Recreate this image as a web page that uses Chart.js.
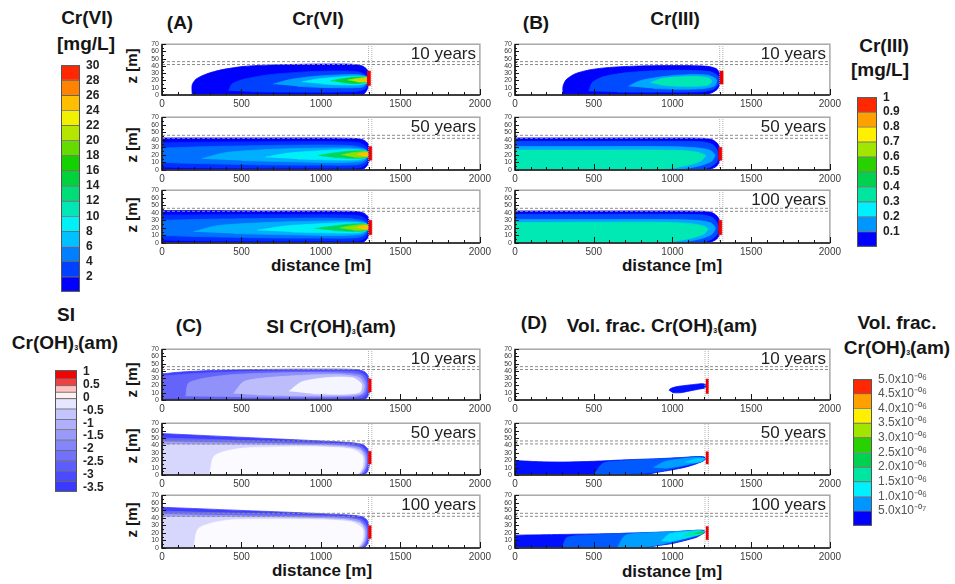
<!DOCTYPE html>
<html>
<head>
<meta charset="utf-8">
<title>Cr plume simulations</title>
<script src="https://cdn.jsdelivr.net/npm/chart.js@4.4.1/dist/chart.umd.min.js"></script>
<style>
  html, body { margin: 0; padding: 0; background: #fff; }
  #fig { position: relative; width: 955px; height: 584px; overflow: hidden;
         font-family: "Liberation Sans", Arial, Helvetica, sans-serif; color: #151515; }
  #fig canvas { position: absolute; }
  .t { position: absolute; white-space: nowrap; font-weight: bold; transform: translate(-50%, -50%); line-height: 1; }
  .big { font-size: 19px; }
  .dist { font-size: 17px; }
  .zl { font-size: 15px; transform: translate(-50%, -50%) rotate(-90deg); }
  .yr { position: absolute; white-space: nowrap; font-size: 17px; color: #222; transform: translate(-100%, -50%); line-height: 1; }
  sub { font-size: 7px; vertical-align: -1px; }
</style>
</head>
<body>
<div id="fig">
  <!-- colorbar titles -->
  <div class="t big" style="left:87px;top:17px">Cr(VI)</div>
  <div class="t big" style="left:86px;top:43px">[mg/L]</div>
  <div class="t big" style="left:884px;top:45px">Cr(III)</div>
  <div class="t big" style="left:880px;top:69px">[mg/L]</div>
  <div class="t big" style="left:66px;top:314px">SI</div>
  <div class="t big" style="left:65px;top:342px">Cr(OH)<sub>3</sub>(am)</div>
  <div class="t big" style="left:897px;top:322px">Vol. frac.</div>
  <div class="t big" style="left:897px;top:347px">Cr(OH)<sub>3</sub>(am)</div>
  <!-- panel titles -->
  <div class="t big" style="left:180px;top:22px">(A)</div>
  <div class="t big" style="left:318px;top:18px">Cr(VI)</div>
  <div class="t big" style="left:536px;top:22px">(B)</div>
  <div class="t big" style="left:675px;top:18px">Cr(III)</div>
  <div class="t big" style="left:189px;top:325px">(C)</div>
  <div class="t big" style="left:331px;top:326px">SI Cr(OH)<sub>3</sub>(am)</div>
  <div class="t big" style="left:534px;top:322px">(D)</div>
  <div class="t big" style="left:662px;top:325px">Vol. frac. Cr(OH)<sub>3</sub>(am)</div>
  <!-- axis titles -->
  <div class="t dist" style="left:321px;top:265px">distance [m]</div>
  <div class="t dist" style="left:672px;top:265px">distance [m]</div>
  <div class="t dist" style="left:322px;top:570px">distance [m]</div>
  <div class="t dist" style="left:672px;top:571px">distance [m]</div>
  <div class="t zl" style="left:131px;top:66px">z [m]</div>
  <div class="t zl" style="left:131px;top:145px">z [m]</div>
  <div class="t zl" style="left:131px;top:215px">z [m]</div>
  <div class="t zl" style="left:131px;top:380px">z [m]</div>
  <div class="t zl" style="left:131px;top:446px">z [m]</div>
  <div class="t zl" style="left:131px;top:520px">z [m]</div>
</div>
<script>
Chart.defaults.font.family = '"Liberation Sans", Arial, sans-serif';

// ---------------- data ----------------
const xMajor = [0, 500, 1000, 1500, 2000];
const zMajor = [0, 10, 20, 30, 40, 50, 60, 70];
const layerBounds = [42, 46];          // dashed horizontal lines, z [m]
const wallABC = [1300, 1320];          // dotted vertical lines, x [m]
const wallD = [1207, 1228];

// colorbar levels and tick labels
const crviLevels = [0, 2, 4, 6, 8, 10, 12, 14, 16, 18, 20, 22, 24, 26, 28, 30];
const crviTicks = [2, 4, 6, 8, 10, 12, 14, 16, 18, 20, 22, 24, 26, 28, 30];
const cr3Levels = [0, 0.1, 0.2, 0.3, 0.4, 0.5, 0.6, 0.7, 0.8, 0.9, 1.0];
const cr3Ticks = [0.1, 0.2, 0.3, 0.4, 0.5, 0.6, 0.7, 0.8, 0.9, 1];
const siLevels = [-3.65, -3.25, -2.85, -2.45, -2.05, -1.65, -1.25, -0.85, -0.45, -0.05, 0.2, 0.45, 0.7, 1.05];
const siTicks = [-3.5, -3, -2.5, -2, -1.5, -1, -0.5, 0, 0.5, 1];
const vfLevels = [0, 5e-7, 1e-6, 1.5e-6, 2e-6, 2.5e-6, 3e-6, 3.5e-6, 4e-6, 4.5e-6, 5e-6];
const vfTicks = [5e-7, 1e-6, 1.5e-6, 2e-6, 2.5e-6, 3e-6, 3.5e-6, 4e-6, 4.5e-6, 5e-6];

// Cr(VI) plume contours [x m, z m], outermost first, with their levels (mg/L)
const crviLevels10 = [1, 3, 6, 9, 15, 21, 25];
const crviPlume10 = [
  [[190,0],[190,14],[215,22],[280,29],[380,35],[520,39.5],[700,41.5],[950,42.5],[1180,42.5],[1255,40.5],[1290,35],[1302,25],[1298,12],[1285,5],[1265,0]],
  [[420,6],[440,15],[520,22],[680,28],[880,31.5],[1080,33],[1230,32],[1285,27],[1295,18],[1280,9],[1220,5],[1050,4],[800,4],[560,4.5]],
  [[700,15],[800,21],[950,25.5],[1100,27.5],[1230,28],[1288,25],[1292,17],[1260,11],[1150,10],[1000,10.5],[850,12]],
  [[880,18],[980,22],[1100,24.5],[1220,26],[1290,24.5],[1292,17],[1230,14],[1120,14],[1000,15.5]],
  [[1060,19.5],[1140,22.5],[1220,24.5],[1290,24],[1292,18],[1220,16],[1140,17]],
  [[1170,20.5],[1230,22.8],[1292,23.5],[1292,18.5],[1230,17.8]],
  [[1240,20.8],[1270,22.5],[1294,23],[1294,19],[1268,19]]
];
const crviLevels50 = [1, 2.5, 4.5, 6.5, 9, 14, 20, 25];
const crviPlume50 = [
  [[0,42.5],[500,42.5],[1000,42.5],[1200,42],[1260,40.5],[1292,36],[1308,26],[1306,14],[1292,6],[1270,1.5],[1250,0],[0,0]],
  [[0,36],[400,37],[800,37.5],[1100,37.5],[1240,36],[1290,30],[1300,18],[1285,8],[1240,3],[1000,2.5],[600,2.5],[200,3],[0,4]],
  [[0,29],[300,31],[700,32.5],[1000,33],[1200,32],[1280,28],[1295,20],[1280,11],[1220,7],[1000,6.5],[600,7],[250,8.5],[0,10]],
  [[250,15],[400,23],[700,27.5],[1000,29],[1200,29],[1285,26],[1292,18],[1260,12],[1100,10],[800,11],[500,12.5]],
  [[650,17],[800,22.5],[1000,25.5],[1180,27],[1290,25],[1292,17],[1220,13.5],[1050,13.5],[850,14.5]],
  [[980,19],[1080,22.5],[1180,25],[1290,24.5],[1292,17],[1200,15.5],[1080,16.5]],
  [[1130,20],[1200,23],[1292,24],[1292,18],[1210,17]],
  [[1225,20.5],[1260,22.5],[1294,23],[1294,18.5],[1260,18.5]]
];
const crviLevels100 = [1, 2.5, 4.5, 6.5, 9, 14, 20, 25];
const crviPlume100 = [
  [[0,43],[300,43],[600,42.5],[1000,42.5],[1200,42],[1260,40.5],[1292,36],[1308,26],[1306,14],[1292,6],[1270,1.5],[1250,0],[0,0]],
  [[0,37],[400,37.5],[800,37.5],[1100,37.5],[1240,36],[1290,30],[1300,18],[1285,8],[1240,3],[1000,2.5],[600,2.5],[200,3],[0,4]],
  [[0,30],[300,31.5],[700,32.5],[1000,33],[1200,32],[1280,28],[1295,20],[1280,11],[1220,7],[1000,6.5],[600,7],[250,8.5],[0,10]],
  [[200,15],[350,23],[700,27.5],[1000,29],[1200,29],[1285,26],[1292,18],[1260,12],[1100,10],[800,11],[450,12.5]],
  [[600,17],[780,22.5],[1000,25.5],[1180,27],[1290,25],[1292,17],[1220,13.5],[1050,13.5],[820,14.5]],
  [[960,19],[1080,22.5],[1180,25],[1290,24.5],[1292,17],[1200,15.5],[1080,16.5]],
  [[1120,20],[1200,23],[1292,24],[1292,18],[1210,17]],
  [[1220,20.5],[1260,22.5],[1294,23],[1294,18.5],[1260,18.5]]
];

// Cr(III) plume contours (mg/L)
const cr3Levels10 = [0.05, 0.1, 0.17, 0.33];
const cr3Plume10 = [
  [[305,0],[305,12],[325,21],[380,29],[470,34.5],[600,38],[800,40],[1050,40.5],[1220,39.5],[1280,36],[1303,28],[1303,17],[1285,8],[1250,3],[1215,0]],
  [[470,5],[490,17],[560,25],[700,30.5],[900,33.5],[1100,34],[1240,32],[1290,26],[1292,15],[1260,8],[1180,4.5],[900,4],[650,4]],
  [[720,12],[800,20],[950,25.5],[1100,28],[1230,27],[1280,21],[1270,13],[1200,9],[1050,8],[880,9]],
  [[860,17],[930,22.5],[1050,25],[1150,25.5],[1235,23],[1250,18],[1220,13.5],[1120,12],[1000,12.5],[920,14]]
];
const cr3Levels50 = [0.05, 0.1, 0.17, 0.33];
const cr3Plume50 = [
  [[0,42.5],[500,42.5],[1000,42.5],[1200,42],[1255,40],[1290,34],[1305,24],[1300,12],[1280,5],[1240,1],[1200,0],[0,0]],
  [[0,38],[500,38],[1000,38],[1200,37],[1260,33],[1288,24],[1285,12],[1250,5],[1190,1],[1100,0],[0,0]],
  [[0,31],[500,31],[950,31],[1150,29.5],[1240,26],[1270,20],[1250,12],[1180,6],[1080,2],[960,0],[0,0]],
  [[0,26.5],[500,26.5],[900,26.5],[1080,25.5],[1170,23],[1210,19],[1180,12],[1100,6.5],[1000,2.5],[880,0],[0,0]]
];
const cr3Levels100 = [0.05, 0.1, 0.17, 0.33];
const cr3Plume100 = [
  [[0,42.5],[500,42.5],[1000,42.5],[1200,42],[1255,40],[1290,34],[1305,24],[1300,12],[1280,5],[1240,1],[1200,0],[0,0]],
  [[0,38],[500,38],[1000,38],[1200,37],[1260,33],[1288,24],[1285,12],[1250,5],[1190,1],[1100,0],[0,0]],
  [[0,31],[500,31],[950,31],[1150,30],[1245,26.5],[1272,20],[1252,12],[1185,6],[1085,2],[965,0],[0,0]],
  [[0,27],[500,27.5],[900,27.5],[1100,26],[1190,23],[1225,19],[1200,12],[1110,6],[1000,2],[880,0],[0,0]]
];

// SI Cr(OH)3(am) contours
const siLevels10 = [-3.3, -2.5, -1.6, -0.8, -0.1];
const siPlume10 = [
  [[0,36],[120,38.5],[300,40.5],[600,42],[1000,42.5],[1220,42],[1275,39],[1300,32],[1308,20],[1302,8],[1285,2],[1265,0],[0,0]],
  [[0,33],[250,37],[600,39.5],[1000,40],[1230,39],[1280,33],[1293,20],[1285,8],[1250,3],[900,2],[400,2],[0,2.5]],
  [[150,5],[170,24],[400,34],[750,37.5],[1100,37.5],[1250,34],[1282,24],[1275,10],[1220,5],[900,4],[500,4]],
  [[450,9],[520,26],[800,33],[1100,35],[1240,31],[1272,20],[1255,9],[1150,6],[850,6],[600,7]],
  [[800,12],[880,25],[1050,31],[1200,30.5],[1255,22],[1245,11],[1150,8],[950,8.5]]
];
const siLevels50 = [-3.3, -2.4, -1.3, -0.4, -0.05];
const siPlume50 = [
  [[0,56],[250,53.5],[500,51],[750,48.5],[1000,46],[1200,43.5],[1265,41],[1295,35],[1306,24],[1302,10],[1288,3],[1262,0],[0,0]],
  [[0,50],[300,48],[600,46],[900,44],[1150,42],[1255,38.5],[1290,30],[1294,14],[1278,4],[1250,0],[0,0]],
  [[0,45],[400,43.5],[800,42],[1100,40.5],[1240,37],[1282,28],[1284,13],[1265,4],[1235,0],[0,0]],
  [[0,41],[500,40.5],[900,40],[1150,38],[1250,33],[1275,22],[1270,10],[1245,2],[1220,0],[0,0]],
  [[300,0],[330,26],[500,36],[800,38],[1050,37.5],[1200,34.5],[1260,26],[1262,12],[1240,3],[1200,0]]
];
const siLevels100 = [-3.3, -2.4, -1.3, -0.4, -0.05];
const siPlume100 = [
  [[0,54],[300,51.5],[600,49],[900,46.5],[1150,44],[1250,42],[1290,37],[1305,26],[1302,10],[1285,3],[1260,0],[0,0]],
  [[0,49],[300,47],[600,45.5],[900,43.5],[1150,41.5],[1255,38],[1290,29],[1294,14],[1278,4],[1250,0],[0,0]],
  [[0,44.5],[400,43],[800,41.5],[1100,40],[1240,36.5],[1282,27],[1284,13],[1265,4],[1235,0],[0,0]],
  [[0,41],[500,40.5],[900,39.5],[1150,37.5],[1250,32.5],[1275,22],[1270,10],[1245,2],[1220,0],[0,0]],
  [[200,0],[230,26],[400,36.5],[700,38],[1050,37],[1200,34],[1260,26],[1262,12],[1240,3],[1200,0]]
];

// Vol. frac. Cr(OH)3(am) contours
const vfLevels10 = [3e-7];
const vfPlume10 = [
  [[977,13.5],[990,16],[1030,18.5],[1080,20],[1140,21.5],[1190,22.5],[1212,21],[1210,17],[1170,15],[1110,12.5],[1050,10],[1000,10]]
];
const vfLevels50 = [3e-7, 5.5e-7, 8e-7, 1.05e-6];
const vfPlume50 = [
  [[0,19.5],[150,18],[300,17.5],[500,18.5],[700,20.5],[900,22],[1050,23.5],[1160,25],[1200,24.5],[1212,22],[1195,19],[1150,15],[1080,10.5],[1000,7],[900,3.5],[810,0],[0,0]],
  [[500,0],[560,16],[700,19.5],[900,21.5],[1050,23],[1170,24.5],[1207,22],[1190,18.5],[1110,14],[1030,10],[940,6],[860,3],[700,1]],
  [[880,10],[950,18],[1050,21.5],[1150,23.5],[1205,22],[1185,18.5],[1110,15],[1030,11.5],[950,9]],
  [[1080,17],[1140,21.5],[1200,22.5],[1190,19],[1130,16.5]]
];
const vfLevels100 = [3e-7, 5.5e-7, 8e-7, 1.15e-6, 1.7e-6, 2.2e-6];
const vfPlume100 = [
  [[0,17],[300,18],[600,19],[900,20.5],[1050,22],[1150,23.5],[1195,23.5],[1210,21.5],[1190,18.5],[1150,14],[1080,10],[1000,6],[900,3],[810,0],[0,0]],
  [[300,0],[330,14],[500,17.5],[700,19.5],[900,21],[1050,22],[1160,23.3],[1205,21.5],[1185,18.5],[1140,14.5],[1070,10.5],[990,6.5],[890,3],[830,0.5]],
  [[650,0],[700,16.5],[850,20],[1000,21.5],[1150,23],[1203,21.5],[1180,18.5],[1120,15],[1050,11],[970,7],[880,3],[800,1]],
  [[930,9],[980,18.5],[1080,21.5],[1170,23],[1203,21.5],[1180,18.5],[1120,15],[1050,11.5],[980,8.5]],
  [[1060,15],[1100,20],[1170,22.3],[1202,21.3],[1180,18.5],[1120,16]],
  [[1140,19],[1180,21.3],[1200,21],[1185,19]]
];

// red source bars [x m, z m]
const barA = [[[1290,13],[1312,13],[1312,33],[1290,33]], [[1300,13],[1320,13],[1320,31],[1300,31]], [[1300,11],[1320,11],[1320,30],[1300,30]]];
const barB = [[[1300,15],[1322,15],[1322,33],[1300,33]], [[1292,13],[1314,13],[1314,30],[1292,30]], [[1292,11],[1314,11],[1314,30],[1292,30]]];
const barC = [[[1298,11],[1316,11],[1316,29],[1298,29]], [[1298,15],[1316,15],[1316,32],[1298,32]], [[1298,12.5],[1316,12.5],[1316,29.5],[1298,29.5]]];
const barD = [[[1212,9],[1228,9],[1228,29],[1212,29]], [[1212,15],[1228,15],[1228,31.5],[1212,31.5]], [[1212,11],[1228,11],[1228,28.5],[1212,28.5]]];

const yearsA = ['10 years', '50 years', ''];
const yearsBCD = ['10 years', '50 years', '100 years'];

// ---------------- colour maps ----------------
const crviStopV = [1, 3, 5, 7, 9, 11, 13, 15, 17, 19, 21, 23, 25, 27, 29];
const crviStopC = [[0,0,255],[0,64,255],[0,128,255],[0,192,255],[0,240,248],[0,230,180],[0,220,120],[0,210,60],[20,210,0],[100,220,0],[180,230,0],[240,240,0],[255,190,0],[255,130,0],[255,40,0]];
const cr3StopV = [0.05, 0.15, 0.25, 0.35, 0.45, 0.55, 0.65, 0.75, 0.85, 0.95];
const cr3StopC = [[0,0,255],[0,150,255],[0,240,255],[0,230,160],[0,210,80],[40,210,0],[160,230,0],[255,240,0],[255,160,0],[255,40,0]];
const siStopV = [-3.5, -2.5, -1.5, -0.5, 0, 0.35, 0.6, 0.9];
const siStopC = [[55,55,255],[100,100,250],[150,150,250],[205,205,253],[255,255,255],[255,190,190],[240,50,50],[240,0,0]];
const vfStopV = cr3StopV.map(v => v * 5e-6);
const vfStopC = cr3StopC;

function colorAt(vals, cols, v) {
  const rgb = c => 'rgb(' + c.join(',') + ')';
  if (v <= vals[0]) return rgb(cols[0]);
  for (let i = 1; i < vals.length; i++) {
    if (v <= vals[i]) {
      const f = (v - vals[i - 1]) / (vals[i] - vals[i - 1]);
      return rgb(cols[i - 1].map((c, k) => Math.round(c + f * (cols[i][k] - c))));
    }
  }
  return rgb(cols[cols.length - 1]);
}

// ---------------- helpers ----------------
const fig = document.getElementById('fig');
function mkCanvas(left, top, w, h) {
  const cv = document.createElement('canvas');
  cv.width = w; cv.height = h;
  cv.style.left = left + 'px'; cv.style.top = top + 'px';
  cv.style.width = w + 'px'; cv.style.height = h + 'px';
  fig.appendChild(cv);
  return cv;
}
function addYear(text, x, y) {
  if (!text) return;
  const d = document.createElement('div');
  d.className = 'yr'; d.textContent = text;
  d.style.left = x + 'px'; d.style.top = y + 'px';
  fig.appendChild(d);
}
const toXY = pts => pts.map(p => ({x: p[0], y: p[1]}));

// frame + inward ticks
const frame = {
  id: 'frame',
  afterDraw(chart) {
    const {ctx, chartArea: a, scales: {x, y}} = chart;
    ctx.save();
    ctx.strokeStyle = '#a8a8a8'; ctx.lineWidth = 1.5;
    ctx.strokeRect(a.left, a.top, a.right - a.left, a.bottom - a.top);
    ctx.strokeStyle = '#151515'; ctx.lineWidth = 1.6;
    ctx.beginPath(); ctx.moveTo(a.left, a.top); ctx.lineTo(a.left, a.bottom); ctx.lineTo(a.right, a.bottom); ctx.stroke();
    ctx.lineWidth = 1;
    x.ticks.forEach(t => {
      const p = Math.round(x.getPixelForValue(t.value)) + 0.5;
      const l = t.label !== '' ? 6 : 3;
      ctx.beginPath(); ctx.moveTo(p, a.bottom); ctx.lineTo(p, a.bottom - l); ctx.stroke();
    });
    y.ticks.forEach(t => {
      const p = Math.round(y.getPixelForValue(t.value)) + 0.5;
      const l = t.label !== '' ? 4 : 2;
      ctx.beginPath(); ctx.moveTo(a.left, p); ctx.lineTo(a.left + l, p); ctx.stroke();
    });
    ctx.restore();
  }
};

function plume(geo, outlines, levels, stopV, stopC, bar, walls, year) {
  const AXW = 22, AXH = 16, PT = 5, PR = 14;
  const cv = mkCanvas(geo.x - AXW, geo.y - PT, geo.w + AXW + PR, geo.h + PT + AXH);
  const ds = [];
  // first dataset is drawn on top
  ds.push({data: toXY(bar), fill: 'shape', backgroundColor: '#ee0000', borderColor: '#ee0000', borderWidth: 0.5, pointRadius: 0, tension: 0});
  layerBounds.forEach(z => ds.push({data: [{x: 0, y: z}, {x: 2000, y: z}], fill: false, borderColor: '#8c8c8c', borderWidth: 1, borderDash: [3, 2], pointRadius: 0}));
  walls.forEach(x => ds.push({data: [{x, y: 0}, {x, y: 70}], fill: false, borderColor: '#b4b4b4', borderWidth: 1, borderDash: [1, 1], pointRadius: 0}));
  for (let i = outlines.length - 1; i >= 0; i--) {
    const c = colorAt(stopV, stopC, levels[i]);
    ds.push({data: toXY(outlines[i]), fill: 'shape', backgroundColor: c, borderColor: c, borderWidth: 0.8, pointRadius: 0, tension: 0.25});
  }
  new Chart(cv, {
    type: 'line',
    data: {datasets: ds},
    options: {
      responsive: false, animation: false, events: [],
      layout: {padding: {top: PT, right: PR, left: 0, bottom: 0}},
      plugins: {legend: {display: false}, tooltip: {enabled: false}},
      scales: {
        x: {type: 'linear', min: 0, max: 2000, afterFit: s => { s.height = AXH; },
            grid: {display: false, drawTicks: false}, border: {display: false},
            ticks: {stepSize: 100, autoSkip: false, maxRotation: 0, padding: 3, color: '#3a3a3a',
                    font: {size: 10}, callback: v => xMajor.includes(v) ? String(v) : ''}},
        y: {type: 'linear', min: 0, max: 70, afterFit: s => { s.width = AXW; },
            grid: {display: false, drawTicks: false}, border: {display: false},
            ticks: {stepSize: 5, autoSkip: false, padding: 3, color: '#3a3a3a',
                    font: {size: 7}, callback: v => zMajor.includes(v) ? String(v) : ''}}
      }
    },
    plugins: [frame]
  });
  addYear(year, geo.x + geo.w - 4, geo.y + 11);
}

const cbFrame = {
  id: 'cbFrame',
  afterDraw(chart) {
    const {ctx, chartArea: a} = chart;
    ctx.save(); ctx.strokeStyle = '#555'; ctx.lineWidth = 1;
    ctx.strokeRect(a.left + 0.5, a.top + 0.5, a.right - a.left - 1, a.bottom - a.top - 1);
    ctx.restore();
  }
};

function colorbar(r, levels, stopV, stopC, ticks, fmt, font, color) {
  const PV = 8;
  const cv = mkCanvas(r.x, r.y - PV, r.w + r.labW, r.h + 2 * PV);
  const datasets = [];
  for (let i = 0; i < levels.length - 1; i++) {
    datasets.push({data: [[levels[i], levels[i + 1]]],
      backgroundColor: colorAt(stopV, stopC, (levels[i] + levels[i + 1]) / 2),
      borderColor: 'rgba(30,30,30,0.55)', borderWidth: 0.8, borderSkipped: false,
      grouped: false, barPercentage: 1, categoryPercentage: 1});
  }
  new Chart(cv, {
    type: 'bar',
    data: {labels: [''], datasets},
    options: {
      responsive: false, animation: false, events: [],
      layout: {padding: {top: PV, bottom: PV, left: 0, right: 0}},
      plugins: {legend: {display: false}, tooltip: {enabled: false}},
      scales: {
        x: {display: false},
        y: {position: 'right', min: levels[0], max: levels[levels.length - 1],
            afterFit: s => { s.width = r.labW; },
            afterBuildTicks: s => { s.ticks = ticks.map(v => ({value: v})); },
            grid: {display: false, drawTicks: false}, border: {display: false},
            ticks: {autoSkip: false, padding: 6, color, font, callback: fmt}}
      }
    },
    plugins: [cbFrame]
  });
}

// ---------------- layout ----------------
const rowsAB = [{y: 42, h: 53}, {y: 115, h: 55}, {y: 188, h: 55}];
const rowsCD = [{y: 347, h: 53}, {y: 421, h: 54}, {y: 493, h: 55}];
const colL = {x: 162, w: 318};
const colR = {x: 515, w: 315};
const g = (c, r) => ({x: c.x, w: c.w, y: r.y, h: r.h});

plume(g(colL, rowsAB[0]), crviPlume10, crviLevels10, crviStopV, crviStopC, barA[0], wallABC, yearsA[0]);
plume(g(colL, rowsAB[1]), crviPlume50, crviLevels50, crviStopV, crviStopC, barA[1], wallABC, yearsA[1]);
plume(g(colL, rowsAB[2]), crviPlume100, crviLevels100, crviStopV, crviStopC, barA[2], wallABC, yearsA[2]);

plume(g(colR, rowsAB[0]), cr3Plume10, cr3Levels10, cr3StopV, cr3StopC, barB[0], wallABC, yearsBCD[0]);
plume(g(colR, rowsAB[1]), cr3Plume50, cr3Levels50, cr3StopV, cr3StopC, barB[1], wallABC, yearsBCD[1]);
plume(g(colR, rowsAB[2]), cr3Plume100, cr3Levels100, cr3StopV, cr3StopC, barB[2], wallABC, yearsBCD[2]);

plume(g(colL, rowsCD[0]), siPlume10, siLevels10, siStopV, siStopC, barC[0], wallABC, yearsBCD[0]);
plume(g(colL, rowsCD[1]), siPlume50, siLevels50, siStopV, siStopC, barC[1], wallABC, yearsBCD[1]);
plume(g(colL, rowsCD[2]), siPlume100, siLevels100, siStopV, siStopC, barC[2], wallABC, yearsBCD[2]);

plume(g(colR, rowsCD[0]), vfPlume10, vfLevels10, vfStopV, vfStopC, barD[0], wallD, yearsBCD[0]);
plume(g(colR, rowsCD[1]), vfPlume50, vfLevels50, vfStopV, vfStopC, barD[1], wallD, yearsBCD[1]);
plume(g(colR, rowsCD[2]), vfPlume100, vfLevels100, vfStopV, vfStopC, barD[2], wallD, yearsBCD[2]);

const boldFont = {size: 12, weight: 'bold'};
const supMap = {'-': '\u207B', '0': '\u2070', '1': '\u00B9', '2': '\u00B2', '3': '\u00B3', '4': '\u2074', '5': '\u2075', '6': '\u2076', '7': '\u2077', '8': '\u2078', '9': '\u2079'};
const sci = v => {
  const e = Math.floor(Math.log10(v) + 1e-9);
  const m = v / Math.pow(10, e);
  const ex = '-' + String(-e).padStart(2, '0');
  return m.toFixed(1) + 'x10' + ex.split('').map(ch => supMap[ch]).join('');
};

colorbar({x: 61, y: 60, w: 19, h: 237, labW: 40}, crviLevels, crviStopV, crviStopC, crviTicks, v => String(v), boldFont, '#222');
colorbar({x: 857, y: 92, w: 20, h: 160, labW: 45}, cr3Levels, cr3StopV, cr3StopC, cr3Ticks, v => String(v), boldFont, '#222');
colorbar({x: 55, y: 365, w: 22, h: 132, labW: 40}, siLevels, siStopV, siStopC, siTicks, v => String(v), boldFont, '#222');
colorbar({x: 853, y: 374, w: 19, h: 157, labW: 80}, vfLevels, vfStopV, vfStopC, vfTicks, sci, {size: 12}, '#555');
</script>
</body>
</html>
